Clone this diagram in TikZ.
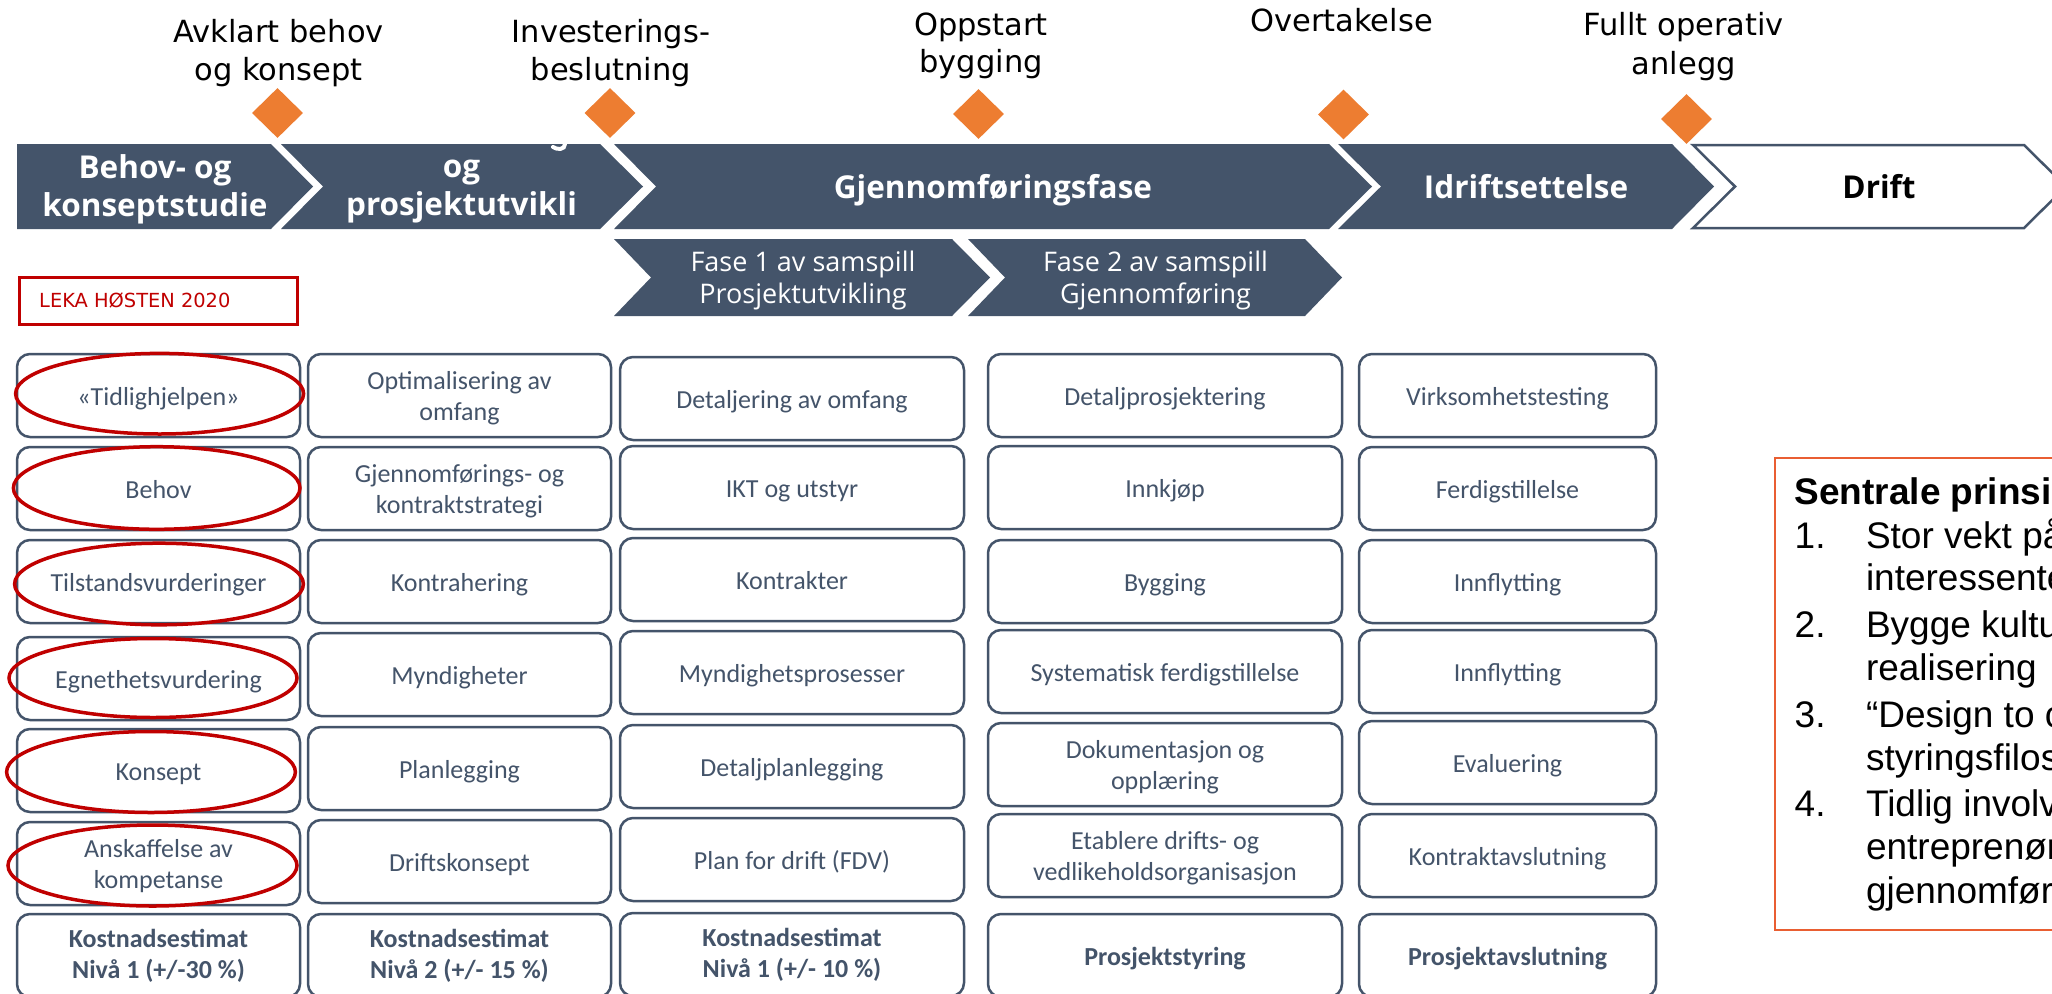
\documentclass[tikz,border=0pt]{standalone}
\usepackage{fontspec}
\setmainfont{Carlito}
\newfontfamily\osans{Open Sans}
\newfontfamily\dvs{DejaVu Sans}
\newfontfamily\arl{Liberation Sans}
\usetikzlibrary{shapes.geometric}
\definecolor{slate}{HTML}{44546A}
\definecolor{mso}{HTML}{ED7D31}
\definecolor{dred}{HTML}{C00000}
\definecolor{pbord}{HTML}{E95E32}
\newcommand\tl[1]{\begin{tabular}[b]{@{}c@{}}#1\end{tabular}}
\tikzset{
  lbl/.style={inner sep=0pt, outer sep=0pt, anchor=base},
  toplbl/.style={lbl, font=\dvs\fontsize{30.5}{37.5}\selectfont, text=black},
  chevtxt/.style={lbl, font=\osans\bfseries\fontsize{31.5}{38}\selectfont, text=white},
  subtxt/.style={lbl, font=\osans\fontsize{27}{31.6}\selectfont, text=white},
  gbox/.style={draw=slate, line width=2.5pt, rounded corners=13pt, fill=white, text=slate,
     inner sep=0pt, outer sep=0pt, anchor=north west,
     minimum height=83pt, font=\fontsize{26}{31}\selectfont,
     text height=30pt, text depth=11pt},
  gbox2/.style={gbox, text height=55pt, text depth=5pt},
  gboxb/.style={gbox, font=\bfseries\fontsize{26}{31}\selectfont, text height=52pt, text depth=7pt},
  gboxbs/.style={gbox, font=\bfseries\fontsize{26}{31}\selectfont},
  ring/.style={draw=dred, line width=3.5pt},
  milestone/.style={diamond, aspect=1, fill=mso, draw=none, inner sep=0pt, minimum width=51pt, minimum height=50pt},
  chev/.style={fill=slate, draw=none},
  ptxt/.style={inner sep=0pt, outer sep=0pt, anchor=base west, font=\arl\fontsize{37}{43}\selectfont, text=black},
}
\begin{document}
\begin{tikzpicture}[x=1pt,y=-1pt]
\useasboundingbox (0,0) rectangle (2052,993);
\fill[white] (0,0) rectangle (2052,993);
\clip (0,0) rectangle (2052,993);

% milestone labels
\node[toplbl] (l1) at (278.6,80) {\tl{Avklart behov\\og konsept}};
\node[toplbl] (l2) at (611,80) {\tl{Investerings-\\beslutning}};
\node[toplbl] (l3) at (981,72.7) {\tl{Oppstart\\bygging}};
\node[toplbl] (l4) at (1341.5,31.7) {Overtakelse};
\node[toplbl, font=\dvs\fontsize{30.5}{39}\selectfont] (l5) at (1683.7,74) {\tl{Fullt operativ\\anlegg}};

% milestones
\node[milestone] (m1) at (277.5,113) {};
\node[milestone] (m2) at (610,113) {};
\node[milestone] (m3) at (978.5,114) {};
\node[milestone] (m4) at (1343.5,114.5) {};
\node[milestone] (m5) at (1686.5,119) {};

% main phase chevrons
\fill[chev] (17,144) -- (271,144) -- (313,186.5) -- (271,229) -- (17,229) -- cycle;
\fill[chev] (281,144) -- (600,144) -- (643,186.5) -- (600,229) -- (281,229) -- (323,186.5) -- cycle;
\fill[chev] (614,144) -- (1329,144) -- (1372,186.5) -- (1329,229) -- (614,229) -- (656,186.5) -- cycle;
\fill[chev] (1338,144) -- (1672,144) -- (1714,186.5) -- (1672,229) -- (1338,229) -- (1381,186.5) -- cycle;
\draw[slate, line width=2.5pt, fill=white, line join=miter] (1693,145) -- (2024,145) -- (2066,186.5) -- (2024,228) -- (1693,228) -- (1735,186.5) -- cycle;
\draw[white, line width=4pt, line cap=round] (565,144) .. controls (565,150) and (557,150) .. (553,147);

\node[chevtxt] (p1) at (155,216) {\tl{Behov- og\\konseptstudie}};
\node[chevtxt] (p2) at (461.5,215) {\tl{og\\prosjektutvikli}};
\node[chevtxt] (p3) at (993,198) {Gjennomføringsfase};
\node[chevtxt] (p4) at (1526,198) {Idriftsettelse};
\node[chevtxt, text=black] (p5) at (1879,198) {Drift};

% sub chevrons
\fill[chev] (614,239) -- (952,239) -- (990,277.5) -- (952,316) -- (614,316) -- (651,277.5) -- cycle;
\fill[chev] (968,239) -- (1305,239) -- (1342,277.5) -- (1305,316) -- (968,316) -- (1005,277.5) -- cycle;
\node[subtxt] (f1) at (803,303.3) {\tl{Fase 1 av samspill\\Prosjektutvikling}};
\node[subtxt] (f2) at (1155.5,303.3) {\tl{Fase 2 av samspill\\Gjennomføring}};

% LEKA
\node[draw=dred, line width=3pt, anchor=north west, minimum width=278pt, minimum height=47pt, inner sep=0pt] (leka) at (18,276) {};
\node[inner sep=0pt, anchor=base west, text=dred, font=\dvs\fontsize{19.4}{24}\selectfont] (lekat) at (39,307.7) {LEKA HØSTEN 2020};

% column 1
\node[gbox, minimum width=283pt] (r1c1) at (17,354) {«Tidlighjelpen»};
\node[gbox, minimum width=283pt] (r2c1) at (17,447) {Behov};
\node[gbox, minimum width=283pt] (r3c1) at (17,540) {Tilstandsvurderinger};
\node[gbox, minimum width=283pt] (r4c1) at (17,637) {Egnethetsvurdering};
\node[gbox, minimum width=283pt] (r5c1) at (17,729) {Konsept};
\node[gbox2, minimum width=283pt] (r6c1) at (17,822) {\tl{Anskaffelse av\\kompetanse}};
\node[gboxb, minimum width=283pt] (r7c1) at (17,914) {\tl{Kostnadsestimat\\Nivå 1 (+/-30 \%)}};

% column 2
\node[gbox2, minimum width=303pt] (r1c2) at (308,354) {\tl{Optimalisering av\\omfang}};
\node[gbox2, minimum width=303pt] (r2c2) at (308,447) {\tl{Gjennomførings- og\\kontraktstrategi}};
\node[gbox, minimum width=303pt] (r3c2) at (308,540) {Kontrahering};
\node[gbox, minimum width=303pt] (r4c2) at (308,633) {Myndigheter};
\node[gbox, minimum width=303pt] (r5c2) at (308,727) {Planlegging};
\node[gbox, minimum width=303pt] (r6c2) at (308,820) {Driftskonsept};
\node[gboxb, minimum width=303pt] (r7c2) at (308,914) {\tl{Kostnadsestimat\\Nivå 2 (+/- 15 \%)}};

% column 3
\node[gbox, minimum width=344pt] (r1c3) at (620,357) {Detaljering av omfang};
\node[gbox, minimum width=344pt] (r2c3) at (620,446) {IKT og utstyr};
\node[gbox, minimum width=344pt] (r3c3) at (620,538) {Kontrakter};
\node[gbox, minimum width=344pt] (r4c3) at (620,631) {Myndighetsprosesser};
\node[gbox, minimum width=344pt] (r5c3) at (620,725) {Detaljplanlegging};
\node[gbox, minimum width=344pt] (r6c3) at (620,818) {Plan for drift (FDV)};
\node[gboxb, minimum width=344pt] (r7c3) at (620,913) {\tl{Kostnadsestimat\\Nivå 1 (+/- 10 \%)}};

% column 4
\node[gbox, minimum width=354pt] (r1c4) at (988,354) {Detaljprosjektering};
\node[gbox, minimum width=354pt] (r2c4) at (988,446) {Innkjøp};
\node[gbox, minimum width=354pt] (r3c4) at (988,540) {Bygging};
\node[gbox, minimum width=354pt] (r4c4) at (988,630) {Systematisk ferdigstillelse};
\node[gbox2, minimum width=354pt] (r5c4) at (988,723) {\tl{Dokumentasjon og\\opplæring}};
\node[gbox2, minimum width=354pt] (r6c4) at (988,814) {\tl{Etablere drifts- og\\vedlikeholdsorganisasjon}};
\node[gboxbs, minimum width=354pt] (r7c4) at (988,914) {Prosjektstyring};

% column 5
\node[gbox, minimum width=297pt] (r1c5) at (1359,354) {Virksomhetstesting};
\node[gbox, minimum width=297pt] (r2c5) at (1359,447) {Ferdigstillelse};
\node[gbox, minimum width=297pt] (r3c5) at (1359,540) {Innflytting};
\node[gbox, minimum width=297pt] (r4c5) at (1359,630) {Innflytting};
\node[gbox, minimum width=297pt] (r5c5) at (1359,721) {Evaluering};
\node[gbox, minimum width=297pt] (r6c5) at (1359,814) {Kontraktavslutning};
\node[gboxbs, minimum width=297pt] (r7c5) at (1359,914) {Prosjektavslutning};

% red rings
\draw[ring] (159.6,393.7) ellipse [x radius=144pt, y radius=40.3pt];
\draw[ring] (156.7,488) ellipse [x radius=143.3pt, y radius=41.3pt];
\draw[ring] (159,584) ellipse [x radius=144.4pt, y radius=40.8pt];
\draw[ring] (153,678) ellipse [x radius=144pt, y radius=39.5pt];
\draw[ring] (151,772) ellipse [x radius=144.4pt, y radius=40.5pt];
\draw[ring] (152.5,865.5) ellipse [x radius=144.5pt, y radius=40.5pt];

% principles box
\node[draw=pbord, line width=2pt, anchor=north west, minimum width=400pt, minimum height=472pt, inner sep=0pt] (pbox) at (1774,457) {};
\node[ptxt, font=\arl\bfseries\fontsize{37}{43}\selectfont] (ph) at (1794.7,504) {Sentrale prinsi};
\node[ptxt] (n1) at (1794.7,548) {1.};
\node[ptxt] (t1a) at (1866,548) {Stor vekt på};
\node[ptxt] (t1b) at (1866,590.5) {interessente};
\node[ptxt] (n2) at (1794.7,637) {2.};
\node[ptxt] (t2a) at (1866,637) {Bygge kultu};
\node[ptxt] (t2b) at (1866,680.5) {realisering};
\node[ptxt] (n3) at (1794.7,727) {3.};
\node[ptxt] (t3a) at (1866,727) {“Design to c};
\node[ptxt] (t3b) at (1866,770.5) {styringsfilos};
\node[ptxt] (n4) at (1794.7,816) {4.};
\node[ptxt] (t4a) at (1866,816) {Tidlig involv};
\node[ptxt] (t4b) at (1866,859.5) {entreprenør};
\node[ptxt] (t4c) at (1866,903) {gjennomfør};
\end{tikzpicture}
\end{document}
